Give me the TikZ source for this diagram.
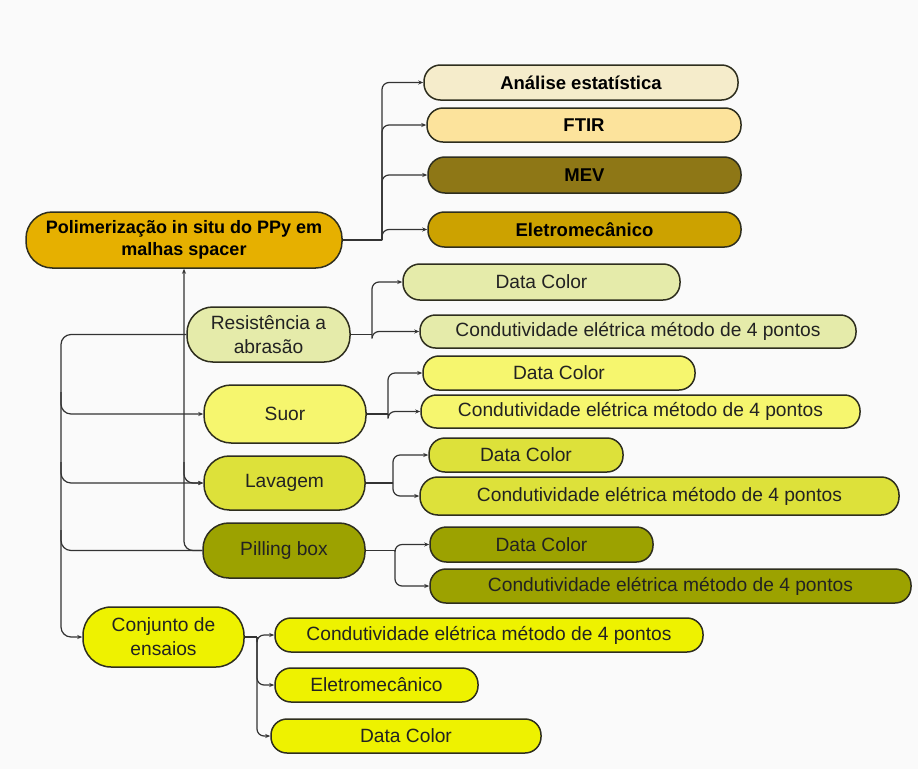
\documentclass[tikz,border=0pt]{standalone}
\usepackage{fontspec}
\setmainfont{Liberation Sans}
\usetikzlibrary{arrows.meta}
\definecolor{bg}{HTML}{FAFAFA}
\definecolor{outl}{HTML}{2E2E1E}
\definecolor{lnc}{HTML}{333333}
\definecolor{txt}{HTML}{222222}
\definecolor{cRoot}{HTML}{E6B000}
\definecolor{cAna}{HTML}{F5ECCB}
\definecolor{cFtir}{HTML}{FCE39C}
\definecolor{cMev}{HTML}{8E7716}
\definecolor{cElet}{HTML}{CCA200}
\definecolor{cRes}{HTML}{E5EBAA}
\definecolor{cSuor}{HTML}{F6F66E}
\definecolor{cLav}{HTML}{DDE13A}
\definecolor{cPill}{HTML}{9CA200}
\definecolor{cConj}{HTML}{EEF200}
\tikzset{
  box/.style={draw=outl, line width=1.5pt, inner sep=0pt, align=center, text=txt,
    font=\fontsize{19.2}{24}\selectfont},
  boldbox/.style={box, text=black, font=\fontsize{18.5}{22}\selectfont\bfseries},
  rootbox/.style={box, text=black, font=\fontsize{18}{22}\selectfont\bfseries},
  conn/.style={draw=lnc, line width=1.2pt},
  arr/.style={conn, -{Stealth[length=5pt,width=4pt]}},
  rc/.style={rounded corners=7pt},
}
\newcommand\mybox[8]{\node[#8, fill=#6, minimum width=#4pt, minimum height=#5pt,
  rounded corners={#5*0.47pt}] (#1) at (#2,#3) {#7};}
\begin{document}
\begin{tikzpicture}[x=1pt,y=-1pt]
\useasboundingbox (0,0) rectangle (918,769);
\fill[bg] (0,0) rectangle (918,769);
% nodes
\mybox{root}{184}{240}{316}{56}{cRoot}{Polimerização in situ do PPy em\\malhas spacer}{rootbox}
\mybox{ana}{581}{82.5}{314}{35}{cAna}{Análise estatística}{boldbox}
\mybox{ftir}{584}{125}{314}{34}{cFtir}{FTIR}{boldbox}
\mybox{mev}{584.5}{175}{313}{36}{cMev}{MEV}{boldbox}
\mybox{elet}{584.5}{229.5}{313}{35}{cElet}{Eletromecânico}{boldbox}
\mybox{res}{268.5}{334.5}{163}{55}{cRes}{Resistência a\\abrasão}{box}
\mybox{dc1}{541.5}{282}{277}{36}{cRes}{Data Color}{box}
\mybox{cd1}{638}{331.5}{436}{33}{cRes}{Condutividade elétrica método de 4 pontos}{box}
\mybox{suor}{285}{414}{162}{58}{cSuor}{Suor}{box}
\mybox{dc2}{559}{373}{272}{34}{cSuor}{Data Color}{box}
\mybox{cd2}{640.5}{411.5}{439}{33}{cSuor}{Condutividade elétrica método de 4 pontos}{box}
\mybox{lav}{284.5}{483}{161}{54}{cLav}{Lavagem}{box}
\mybox{dc3}{526}{455}{194}{34}{cLav}{Data Color}{box}
\mybox{cd3}{659.5}{496}{479}{38}{cLav}{Condutividade elétrica método de 4 pontos}{box}
\mybox{pill}{284}{550.5}{162}{55}{cPill}{Pilling box}{box}
\mybox{dc4}{541.5}{544.5}{223}{35}{cPill}{Data Color}{box}
\mybox{cd4}{670.5}{586}{481}{34}{cPill}{Condutividade elétrica método de 4 pontos}{box}
\mybox{conj}{163.5}{637}{161}{60}{cConj}{Conjunto de\\ensaios}{box}
\mybox{cd5}{489}{635}{428}{34}{cConj}{Condutividade elétrica método de 4 pontos}{box}
\mybox{el2}{376.5}{685}{203}{34}{cConj}{Eletromecânico}{box}
\mybox{dc5}{406}{736}{270}{34}{cConj}{Data Color}{box}
% root -> analyses
\coordinate (rj) at (382,240);
\draw[conn, line width=2pt] (root.east) -- (rj);
\draw[arr, rc] (rj) |- (ana.west);
\draw[arr, rc] (rj) |- (ftir.west);
\draw[arr, rc] (rj) |- (mev.west);
\draw[arr, rc] (rj) |- (elet.west);
% inner vertical
\draw[arr, rounded corners=9pt] (pill.west) -| (root.south);
\coordinate (iv) at (184,462);
\draw[arr, rounded corners=9pt] (iv) |- (lav.west);
% outer trunk
\coordinate (ov) at (61,560);
\draw[arr, rounded corners=10pt] (res.west) -| (ov) |- (conj.west);
\coordinate (o1) at (61,392);
\coordinate (o2) at (61,462);
\coordinate (o3) at (61,530);
\draw[arr, rounded corners=10pt] (o1) |- (suor.west);
\draw[arr, rounded corners=10pt] (o2) |- (lav.west);
\draw[conn, rounded corners=10pt] (o3) |- (pill.west);
% resistencia
\coordinate (rj1) at (372,334.5);
\draw[conn] (res.east) -- (rj1);
\draw[arr, rc] (rj1) |- (dc1.west);
\draw[arr, rc] (rj1) |- (cd1.west);
% suor
\coordinate (sj) at (388,414);
\draw[conn] (suor.east) -- (sj);
\draw[arr, rc] (sj) |- (dc2.west);
\draw[arr, rc] (sj) |- (cd2.west);
% lavagem
\coordinate (lj) at (393,483);
\draw[conn] (lav.east) -- (lj);
\draw[arr, rc] (lj) |- (dc3.west);
\draw[arr, rc] (lj) |- (cd3.west);
% pilling
\coordinate (pj) at (395,550.5);
\draw[conn] (pill.east) -- (pj);
\draw[arr, rc] (pj) |- (dc4.west);
\draw[arr, rc] (pj) |- (cd4.west);
% conjunto
\coordinate (cj) at (257,637);
\draw[conn] (conj.east) -- (cj);
\draw[arr, rc] (cj) |- (cd5.west);
\draw[arr, rc] (cj) |- (el2.west);
\draw[arr, rc] (cj) |- (dc5.west);
\end{tikzpicture}
\end{document}
